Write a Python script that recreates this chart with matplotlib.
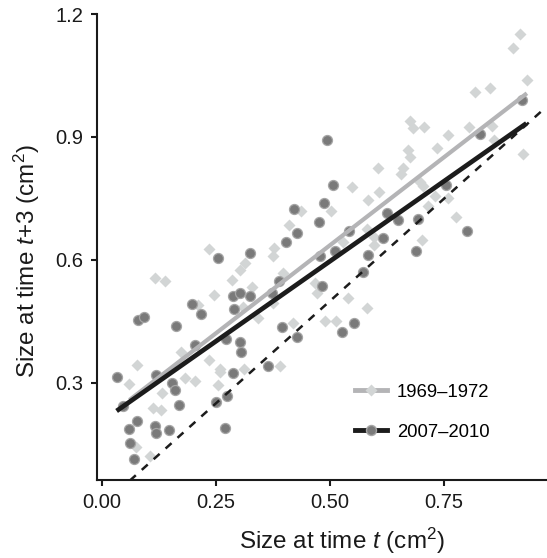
import numpy as np
import matplotlib.pyplot as plt
from matplotlib.lines import Line2D

plt.rcParams['font.family'] = ['Liberation Sans', 'DejaVu Sans']
plt.rcParams['mathtext.fontset'] = 'custom'
plt.rcParams['mathtext.rm'] = 'Liberation Sans'
plt.rcParams['mathtext.it'] = 'Liberation Sans:italic'

# --- data ---
# 1969-1972 (light diamonds)
x_old = [0.061, 0.077, 0.075, 0.107, 0.113, 0.130, 0.132, 0.117, 0.139, 0.175,
         0.183, 0.205, 0.212, 0.236, 0.236, 0.247, 0.254, 0.260, 0.260, 0.285,
         0.303, 0.314, 0.310, 0.312, 0.330, 0.343, 0.375, 0.377, 0.375, 0.391,
         0.398, 0.411, 0.418, 0.437, 0.467, 0.471, 0.489, 0.513, 0.502, 0.540,
         0.549, 0.582, 0.582, 0.584, 0.596, 0.596, 0.606, 0.608, 0.660, 0.655,
         0.671, 0.675, 0.675, 0.682, 0.706, 0.697, 0.704, 0.729, 0.715, 0.735,
         0.759, 0.759, 0.775, 0.701, 0.805, 0.817, 0.850, 0.854, 0.859, 0.901,
         0.916, 0.931, 0.923, 0.529]
y_old = [0.298, 0.345, 0.144, 0.122, 0.238, 0.234, 0.276, 0.555, 0.549, 0.376,
         0.313, 0.305, 0.491, 0.626, 0.355, 0.515, 0.294, 0.334, 0.327, 0.550,
         0.575, 0.592, 0.485, 0.334, 0.535, 0.458, 0.494, 0.630, 0.610, 0.341,
         0.568, 0.685, 0.446, 0.720, 0.544, 0.519, 0.451, 0.451, 0.720, 0.507,
         0.779, 0.484, 0.676, 0.746, 0.656, 0.637, 0.824, 0.765, 0.824, 0.810,
         0.868, 0.850, 0.939, 0.922, 0.924, 0.790, 0.780, 0.756, 0.732, 0.874,
         0.905, 0.751, 0.706, 0.648, 0.925, 1.010, 1.020, 0.926, 0.893, 1.116,
         1.150, 1.038, 0.858, 0.645]

# 2007-2010 (dark circles)
x_new = [0.033, 0.046, 0.061, 0.062, 0.072, 0.077, 0.079, 0.094, 0.116, 0.119,
         0.120, 0.148, 0.154, 0.161, 0.163, 0.170, 0.199, 0.205, 0.217, 0.251,
         0.256, 0.271, 0.272, 0.274, 0.287, 0.287, 0.290, 0.304, 0.303, 0.305,
         0.324, 0.326, 0.365, 0.374, 0.389, 0.394, 0.404, 0.422, 0.427, 0.428,
         0.482, 0.476, 0.478, 0.487, 0.494, 0.507, 0.512, 0.526, 0.542, 0.553,
         0.573, 0.584, 0.615, 0.625, 0.649, 0.688, 0.693, 0.754, 0.800, 0.829,
         0.920]
y_new = [0.315, 0.245, 0.188, 0.154, 0.114, 0.207, 0.454, 0.462, 0.195, 0.179,
         0.320, 0.185, 0.299, 0.284, 0.439, 0.246, 0.493, 0.393, 0.468, 0.254,
         0.606, 0.191, 0.408, 0.268, 0.511, 0.324, 0.480, 0.520, 0.399, 0.376,
         0.512, 0.618, 0.342, 0.520, 0.549, 0.437, 0.643, 0.724, 0.413, 0.665,
         0.537, 0.693, 0.609, 0.738, 0.893, 0.783, 0.622, 0.425, 0.671, 0.446,
         0.571, 0.611, 0.654, 0.714, 0.698, 0.622, 0.700, 0.784, 0.671, 0.908,
         0.991]

# fitted lines (intercept, slope, x-range)
fit_old = (0.206, 0.860, 0.061, 0.931)
fit_new = (0.206, 0.782, 0.033, 0.930)
one_to_one = (0.062, 0.970)

labels = ['1969\u20131972', '2007\u20132010']
xticks = [0.00, 0.25, 0.50, 0.75]
yticks = [0.3, 0.6, 0.9, 1.2]

c_diam = '#d2d5d5'
c_gline = '#b4b4b6'
c_circ = '#7a7a7a'
c_circ_edge = '#a6a6a6'
c_black = '#1c1c1c'

fig = plt.figure(figsize=(5.47, 5.58), dpi=100)
ax = fig.add_axes([96.5 / 547, 78 / 558, 450.5 / 547, 466 / 558])

ax.plot(x_old, y_old, 'D', ms=6.2, mfc=c_diam, mec='none', zorder=2)
ax.plot(x_new, y_new, 'o', ms=7.2, mfc=c_circ, mec=c_circ_edge, mew=0.9, zorder=3)

xs = np.array(fit_old[2:])
ax.plot(xs, fit_old[0] + fit_old[1] * xs, color=c_gline, lw=3.0,
        solid_capstyle='butt', zorder=4)
xs = np.array(fit_new[2:])
ax.plot(xs, fit_new[0] + fit_new[1] * xs, color=c_black, lw=3.4,
        solid_capstyle='butt', zorder=5)
ax.plot(one_to_one, one_to_one, color=c_black, lw=1.8, ls=(0, (3.2, 3.2)), zorder=5)

ax.set_xlim(-0.011, 0.975)
ax.set_ylim(0.0634, 1.2)
ax.set_xticks(xticks)
ax.set_xticklabels([f'{v:.2f}' for v in xticks])
ax.set_yticks(yticks)
ax.set_yticklabels([f'{v:.1f}' for v in yticks])

for s in ['top', 'right']:
    ax.spines[s].set_visible(False)
for s in ['left', 'bottom']:
    ax.spines[s].set_linewidth(1.5)
    ax.spines[s].set_color('#1a1a1a')
ax.tick_params(direction='out', length=4.5, width=1.5, labelsize=14.5,
               colors='#1a1a1a', pad=5)

ax.set_xlabel('Size at time $t$ (cm$^2$)', fontsize=17.5, color='#1a1a1a')
ax.set_ylabel('Size at time $t$+3 (cm$^2$)', fontsize=17.5, color='#1a1a1a')
ax.xaxis.set_label_coords(0.545, -0.131)
ax.xaxis.label.set_verticalalignment('center')
ax.yaxis.set_label_coords(-0.154, 0.47)
ax.yaxis.label.set_verticalalignment('center')

handles = [
    Line2D([], [], color=c_gline, lw=3.5, marker='D', ms=6.2, mfc=c_diam, mec='none'),
    Line2D([], [], color=c_black, lw=3.5, marker='o', ms=7.2, mfc=c_circ, mec=c_circ_edge),
]
ax.legend(handles, labels, loc='upper left', bbox_to_anchor=(0.574, 0.207),
          frameon=False, fontsize=13.3, borderpad=0, handlelength=1.75,
          handletextpad=0.5, labelspacing=1.25, borderaxespad=0)

fig.savefig('out.png', dpi=100)
